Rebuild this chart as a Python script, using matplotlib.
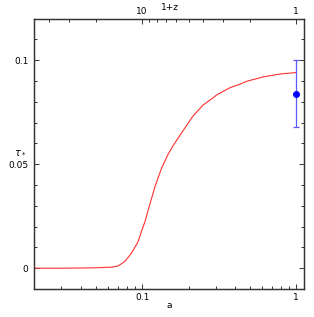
import matplotlib
matplotlib.use("Agg")
import matplotlib.pyplot as plt
import numpy as np
from matplotlib.ticker import FixedLocator, NullFormatter, FixedFormatter

# curve data (scale factor a, optical depth tau)
a_curve = [0.02, 0.03, 0.04, 0.0493, 0.0633, 0.0699, 0.0772, 0.0853, 0.0942, 0.0991,
           0.1042, 0.1094, 0.1151, 0.1209, 0.1336, 0.1476, 0.1590, 0.1846, 0.2144,
           0.2489, 0.289, 0.304, 0.371, 0.431, 0.477, 0.611, 0.784, 1.0]
tau_curve = [0.0, 0.0, 0.0001, 0.0002, 0.0005, 0.0011, 0.0032, 0.0072, 0.0128, 0.0178,
             0.0222, 0.0279, 0.0335, 0.0390, 0.0480, 0.0549, 0.0590, 0.0662, 0.0733,
             0.0785, 0.0820, 0.0833, 0.0868, 0.0885, 0.0899, 0.0920, 0.0934, 0.0941]

# observed point
a_obs = [1.0]
tau_obs = [0.084]
tau_lo = [0.068]
tau_hi = [0.100]

xticks_bottom = [0.1, 1]
xticklabels_bottom = ["0.1", "1"]
top_major = [10, 1]
top_minor = [2, 3, 4, 5, 6, 7, 8, 9, 20, 30, 40, 50]
yticks = [0, 0.05, 0.1]
yticklabels = ["0", "0.05", "0.1"]

W, H = 314, 317
fig = plt.figure(figsize=(W/100, H/100), dpi=100)
ax = fig.add_axes([34/W, 28/H, 270/W, 270.3/H])

ax.plot(a_curve, tau_curve, color='#ff3030', lw=0.8)

err_lo = [t - l for t, l in zip(tau_obs, tau_lo)]
err_hi = [h - t for t, h in zip(tau_obs, tau_hi)]
ax.errorbar(a_obs, tau_obs, yerr=[err_lo, err_hi], fmt='o', color='#0000ff',
            ecolor='#5a5aff', elinewidth=0.9, capsize=2.5, capthick=0.9, markersize=4)

ax.set_xscale('log')
ax.set_xlim(0.0199, 1.122)
ax.set_ylim(-0.01, 0.12)

frame_col = '#333333'
for s in ax.spines.values():
    s.set_color(frame_col)
    s.set_linewidth(0.9)

ax.xaxis.set_major_locator(FixedLocator(xticks_bottom))
ax.xaxis.set_major_formatter(FixedFormatter(xticklabels_bottom))
ax.xaxis.set_minor_locator(FixedLocator([0.03, 0.04, 0.05, 0.06, 0.07, 0.08, 0.09,
                                         0.2, 0.3, 0.4, 0.5, 0.6, 0.7, 0.8, 0.9]))
ax.xaxis.set_minor_formatter(NullFormatter())
ax.set_yticks(yticks)
ax.set_yticklabels(yticklabels)
ax.yaxis.set_minor_locator(FixedLocator(np.arange(-0.01, 0.121, 0.01)))

ax.tick_params(which='both', direction='in', top=False, right=True, colors=frame_col,
               labelcolor='black', labelsize=6.5)
ax.tick_params(which='major', length=3.6, width=0.7, pad=3)
ax.tick_params(which='minor', length=2.2, width=0.7)
ax.tick_params(axis='y', which='major', pad=4)

ax2 = ax.twiny()
ax2.set_xscale('log')
ax2.set_xlim(ax.get_xlim())
ax2.xaxis.set_major_locator(FixedLocator([1.0/z for z in top_major]))
ax2.xaxis.set_major_formatter(FixedFormatter([str(z) for z in top_major]))
ax2.xaxis.set_minor_locator(FixedLocator([1.0/z for z in top_minor]))
ax2.xaxis.set_minor_formatter(NullFormatter())
ax2.tick_params(which='both', direction='in', colors=frame_col, labelcolor='black',
                labelsize=6.5)
ax2.tick_params(which='major', length=3.6, width=0.7, pad=2)
ax2.tick_params(which='minor', length=2.2, width=0.7)
for s in ax2.spines.values():
    s.set_color(frame_col)
    s.set_linewidth(0.9)

fig.text(169/W, 1 - 306/H, 'a', ha='center', va='center', fontsize=6.5)
fig.text(170/W, 1 - 8/H, '1+z', ha='center', va='center', fontsize=6.5)
fig.text(20/W, 1 - 152/H, r'$\tau_*$', ha='center', va='center', fontsize=7)

fig.savefig('out.png', dpi=100)
